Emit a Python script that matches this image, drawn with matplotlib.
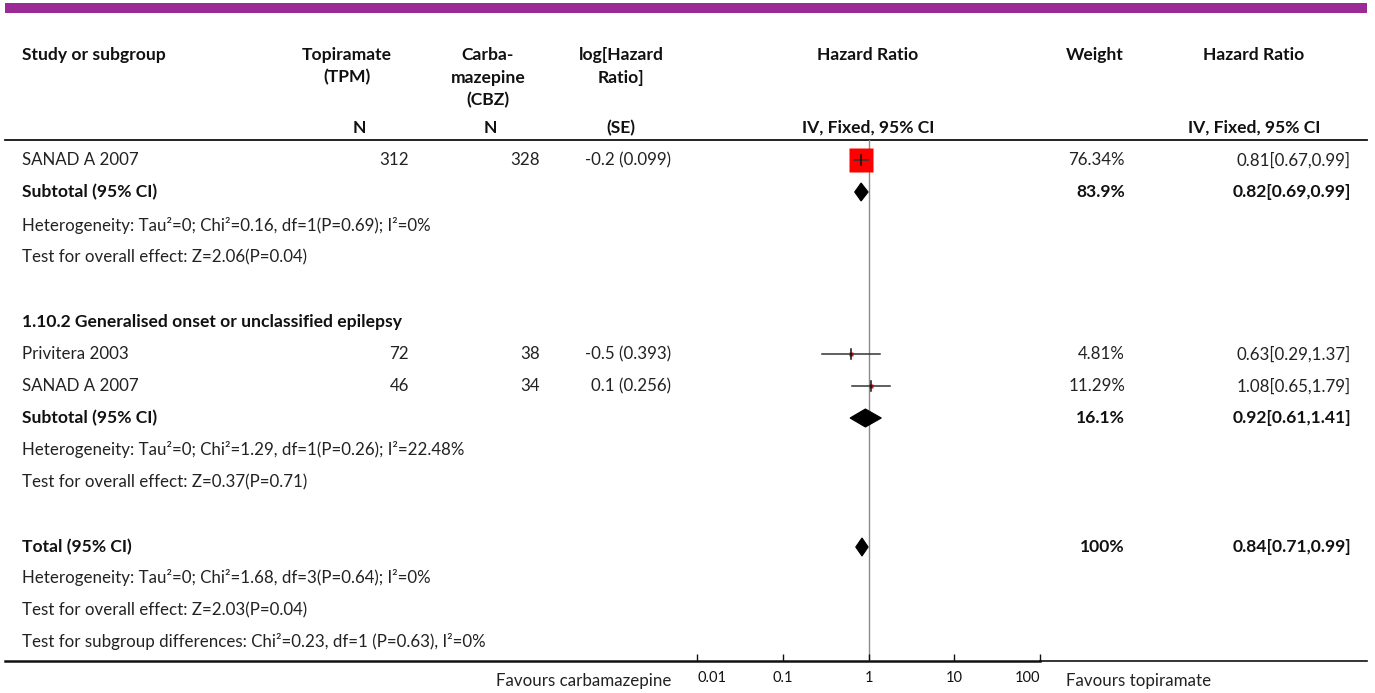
import matplotlib
matplotlib.use("Agg")
import matplotlib.pyplot as plt
import numpy as np
from matplotlib.patches import Rectangle, Polygon

plt.rcParams["font.family"] = ["Lato", "DejaVu Sans"]

# ---- data ----
study_names = ["SANAD A 2007", "Privitera 2003", "SANAD A 2007"]
n_tpm = [312, 72, 46]
n_cbz = [328, 38, 34]
log_hr = [-0.2, -0.5, 0.1]
se = [0.099, 0.393, 0.256]
hr = [0.81, 0.63, 1.08]
hr_lo = [0.67, 0.29, 0.65]
hr_hi = [0.99, 1.37, 1.79]
weights = [76.34, 4.81, 11.29]

pooled_names = ["Subtotal (95% CI)", "Subtotal (95% CI)", "Total (95% CI)"]
pooled_hr = [0.82, 0.92, 0.84]
pooled_lo = [0.69, 0.61, 0.71]
pooled_hi = [0.99, 1.41, 0.99]
pooled_w = ["83.9%", "16.1%", "100%"]

notes = ["Heterogeneity: Tau\u00b2=0; Chi\u00b2=0.16, df=1(P=0.69); I\u00b2=0%",
         "Test for overall effect: Z=2.06(P=0.04)",
         "Heterogeneity: Tau\u00b2=0; Chi\u00b2=1.29, df=1(P=0.26); I\u00b2=22.48%",
         "Test for overall effect: Z=0.37(P=0.71)",
         "Heterogeneity: Tau\u00b2=0; Chi\u00b2=1.68, df=3(P=0.64); I\u00b2=0%",
         "Test for overall effect: Z=2.03(P=0.04)",
         "Test for subgroup differences: Chi\u00b2=0.23, df=1 (P=0.63), I\u00b2=0%"]
subgroup_title = "1.10.2 Generalised onset or unclassified epilepsy"
axis_ticks = [0.01, 0.1, 1, 10, 100]
axis_ticklabels = ["0.01", "0.1", "1", "10", "100"]

# ---- layout (pixel rows) ----
W, H = 1375, 693
study_rows = [160, 354, 386]
pooled_rows = [192, 418, 547]
note_rows = [225, 257, 450, 482, 578, 610, 642]
FS, FSB = 12.2, 12.6
PURPLE = "#9c2a96"

fig = plt.figure(figsize=(W/100, H/100), dpi=100)
bg = fig.add_axes([0, 0, 1, 1])
bg.set_xlim(0, W); bg.set_ylim(H, 0); bg.axis("off")

bg.add_patch(Rectangle((5, 3), 1362, 10, facecolor=PURPLE, edgecolor="none"))

# headers
hb = dict(fontsize=FSB, weight="bold", va="center", color="#111")
bg.text(22, 55, "Study or subgroup", ha="left", **hb)
for x, lines in [(347, ["Topiramate", "(TPM)"]), (488, ["Carba-", "mazepine", "(CBZ)"]),
                 (621, ["log[Hazard", "Ratio]"]), (868, ["Hazard Ratio"]),
                 (1095, ["Weight"]), (1254, ["Hazard Ratio"])]:
    for i, s in enumerate(lines):
        bg.text(x, 55 + 22.5*i, s, ha="center", **hb)
for x, s in [(359, "N"), (490, "N"), (621, "(SE)"), (868, "IV, Fixed, 95% CI"), (1254, "IV, Fixed, 95% CI")]:
    bg.text(x, 128, s, ha="center", **hb)
bg.plot([5, 1367], [140, 140], color="#111", lw=1.3)
bg.plot([5, 1040], [661, 661], color="#111", lw=1.8)
bg.plot([1040, 1367], [660.5, 660.5], color="#111", lw=1.2)

# study rows
tx = dict(fontsize=FS, va="center", color="#222")
for i, y in enumerate(study_rows):
    bg.text(22, y, study_names[i], ha="left", **tx)
    bg.text(409, y, f"{n_tpm[i]}", ha="right", **tx)
    bg.text(540, y, f"{n_cbz[i]}", ha="right", **tx)
    bg.text(671, y, f"{log_hr[i]:g} ({se[i]:g})", ha="right", **tx)
    bg.text(1125, y, f"{weights[i]:.2f}%", ha="right", **tx)
    bg.text(1351, y, f"{hr[i]:.2f}[{hr_lo[i]:.2f},{hr_hi[i]:.2f}]", ha="right", **tx)

for i, y in enumerate(pooled_rows):
    bg.text(22, y, pooled_names[i], ha="left", **hb)
    bg.text(1125, y, pooled_w[i], ha="right", **hb)
    bg.text(1351, y, f"{pooled_hr[i]:.2f}[{pooled_lo[i]:.2f},{pooled_hi[i]:.2f}]", ha="right", **hb)

for s, y in zip(notes, note_rows):
    bg.text(22, y, s, ha="left", **tx)
bg.text(22, 322, subgroup_title, ha="left", **hb)

bg.text(671, 681, "Favours carbamazepine", ha="right", **tx)
bg.text(1066, 681, "Favours topiramate", ha="left", **tx)

# ---- forest axes ----
x0, x1, y0, y1 = 697, 1040, 140, 661
ax = fig.add_axes([x0/W, 1 - y1/H, (x1 - x0)/W, (y1 - y0)/H])
ax.set_xscale("log")
ax.set_xlim(axis_ticks[0], axis_ticks[-1])
ax.set_ylim(y1, y0)
ax.patch.set_alpha(0)
for s in ax.spines.values():
    s.set_visible(False)
ax.set_yticks([])
ax.set_xticks(axis_ticks)
ax.set_xticklabels(axis_ticklabels)
ax.minorticks_off()
ax.tick_params(axis="x", direction="in", length=5, width=1, labelsize=10.5, pad=7, colors="#111")
labels = ax.get_xticklabels()
labels[0].set_ha("left")
labels[-1].set_ha("right")
ax.axvline(1, color="#8a8a8a", lw=1, zorder=1)

for i, y in enumerate(study_rows):
    side = max(4.0, 24 * weights[i] / max(weights))
    ax.plot([hr[i]], [y], marker="s", ms=side*0.72, mfc="#ff0000", mec="none", zorder=2, clip_on=False)
    ax.plot([hr_lo[i], hr_hi[i]], [y, y], color="#333", lw=1.1, zorder=3, clip_on=False)
    ax.plot([hr[i], hr[i]], [y - 5, y + 5], color="#111", lw=1.1, zorder=3, clip_on=False)

for i, y in enumerate(pooled_rows):
    h = 9
    ax.add_patch(Polygon([(pooled_lo[i], y), (pooled_hr[i], y - h), (pooled_hi[i], y), (pooled_hr[i], y + h)],
                         closed=True, facecolor="black", edgecolor="black", lw=0.8, zorder=3, clip_on=False))

fig.savefig("out.png", dpi=100)
